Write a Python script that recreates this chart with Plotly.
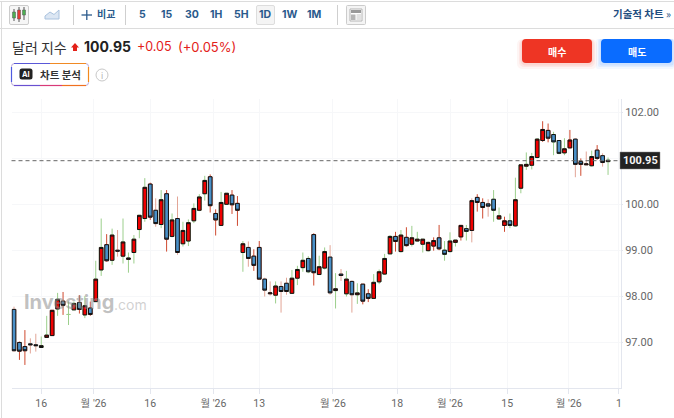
import plotly.graph_objects as go

W, H = 674, 418
PLOT_L, PLOT_R, PLOT_T, PLOT_B = 11.5, 621, 99, 388
STEP = 5.45
FIRST = 14
SANS = "Inter, 'Noto Sans CJK KR', sans-serif"
KR = "'Noto Sans CJK KR', sans-serif"

opens = [97.71, 96.99, 96.90, 96.96, 96.94, 96.88, 97.10, 97.14, 97.72, 97.89,
         97.60, 97.70, 97.86, 97.59, 97.74, 97.88, 98.57, 99.12, 98.78, 99.00,
         98.87, 98.80, 98.95, 99.45, 99.69, 100.44, 99.87, 99.56, 100.23, 99.30,
         99.69, 99.14, 99.20, 99.64, 99.87, 100.23, 100.60, 99.80, 99.54, 100.00,
         100.20, 100.02, 98.95, 99.06, 98.87, 99.06, 98.37, 98.05, 98.02, 98.21,
         98.28, 98.06, 98.39, 98.62, 98.82, 99.34, 98.47, 98.61, 98.85, 98.12,
         98.48, 98.05, 98.32, 98.03, 98.26, 98.05, 97.95, 98.31, 98.48, 98.92,
         99.30, 98.97, 99.28, 99.13, 99.20, 99.13, 98.99, 99.09, 99.27, 99.00,
         98.97, 99.17, 99.29, 99.47, 99.43, 100.15, 100.04, 100.01, 100.11, 99.68,
         99.54, 99.64, 99.53, 100.35, 100.83, 100.85, 101.02, 101.39, 101.61, 101.52,
         101.39, 101.12, 101.23, 101.42, 100.93, 100.86, 100.84, 101.18, 101.06, 100.93]
highs = [97.77, 97.01, 97.26, 97.08, 97.18, 97.12, 97.57, 97.69, 98.07, 98.09,
         97.88, 97.88, 98.02, 98.00, 97.88, 98.77, 99.69, 99.35, 99.47, 99.44,
         99.69, 98.95, 99.33, 99.77, 100.57, 100.47, 100.13, 100.31, 100.31, 99.80,
         100.17, 99.62, 99.67, 100.02, 100.22, 100.62, 100.65, 99.89, 100.27, 100.24,
         100.31, 100.18, 99.20, 99.19, 99.02, 99.20, 98.40, 98.32, 98.32, 98.32,
         98.40, 98.57, 98.66, 98.95, 98.87, 99.37, 98.88, 99.06, 99.11, 98.50,
         98.59, 98.55, 98.34, 98.28, 98.26, 98.15, 98.48, 98.58, 98.92, 99.33,
         99.40, 99.44, 99.50, 99.53, 99.40, 99.24, 99.19, 99.28, 99.55, 99.20,
         99.39, 99.22, 99.55, 99.55, 100.13, 100.22, 100.13, 100.11, 100.31, 99.93,
         99.73, 99.80, 100.58, 100.87, 101.13, 101.12, 101.44, 101.81, 101.76, 101.58,
         101.40, 101.44, 101.62, 101.44, 101.00, 101.15, 101.17, 101.29, 101.11, 101.02]
lows = [96.79, 96.61, 96.50, 96.75, 96.79, 96.88, 97.10, 97.14, 97.57, 97.59,
        97.37, 97.70, 97.62, 97.52, 97.57, 97.88, 98.44, 98.75, 98.68, 98.86,
        98.71, 98.51, 98.71, 99.26, 99.62, 99.66, 99.51, 99.48, 98.97, 99.28,
        98.90, 99.08, 99.09, 99.59, 99.85, 100.08, 99.82, 99.32, 99.53, 99.99,
        99.79, 99.53, 98.53, 98.64, 98.55, 98.37, 97.99, 98.01, 97.84, 97.64,
        98.03, 98.06, 98.24, 98.53, 98.50, 98.23, 98.46, 98.58, 98.03, 97.73,
        98.33, 97.99, 97.64, 97.83, 97.82, 97.87, 97.95, 98.26, 98.46, 98.92,
        98.97, 98.95, 99.08, 99.08, 99.19, 98.95, 98.97, 98.99, 99.00, 98.77,
        98.95, 99.08, 99.21, 99.21, 99.17, 99.84, 99.69, 99.73, 99.62, 99.66,
        99.40, 99.48, 99.51, 100.24, 100.75, 100.76, 101.00, 101.36, 101.35, 101.07,
        101.09, 101.07, 101.22, 100.59, 100.62, 100.86, 100.82, 100.97, 100.82, 100.64]
closes = [96.81, 96.80, 96.81, 96.94, 96.92, 96.92, 97.15, 97.69, 97.93, 97.80,
          97.60, 97.84, 97.71, 97.79, 97.60, 98.37, 99.06, 98.77, 99.33, 98.98,
          99.18, 98.83, 99.24, 99.76, 100.37, 99.72, 99.58, 100.10, 99.24, 99.66,
          98.95, 99.43, 99.60, 99.91, 100.16, 100.52, 99.97, 99.66, 100.04, 100.24,
          99.99, 99.87, 99.14, 98.82, 98.67, 98.37, 98.13, 98.07, 98.22, 98.10,
          98.10, 98.39, 98.58, 98.78, 98.53, 98.51, 98.64, 98.97, 98.07, 98.16,
          98.45, 98.37, 98.03, 98.07, 97.89, 97.95, 98.30, 98.53, 98.82, 99.30,
          99.19, 99.33, 99.10, 99.27, 99.24, 99.24, 99.17, 99.21, 99.03, 98.91,
          99.20, 99.22, 99.54, 99.41, 100.08, 100.04, 99.93, 99.96, 99.87, 99.75,
          99.64, 99.54, 100.10, 100.86, 100.87, 101.04, 101.42, 101.63, 101.44, 101.36,
          101.11, 101.21, 101.40, 100.87, 100.87, 100.88, 101.04, 101.00, 100.91, 100.96]
# g = green wick, r = red wick, p = pale red wick
wick_kinds = list("prrppggrgrggrgrggrgpggggg"
                  "rpgrgpggggg"
                  "rrggrrgprrppgppgggg"
                  "rggpgpgpgrrggggrgrggggrrggg"
                  "rgprrpggrggggggrrgg"
                  "grprpgrpg")[:110]
no_body = [10]

last_price = 100.95
y_ticks = [97, 98, 99, 100, 101, 102]
y_labels = ["97.00", "98.00", "99.00", "100.00", "", "102.00"]
x_ticks = [5, 14.6, 25, 36.6, 45, 58.5, 70.3, 80, 90.5, 101.8, 111.0]
x_labels = ["16", "월 '26", "16", "월 '26", "13", "월 '26", "18", "월 '26", "15", "월 '26", "1"]
periods = ["5", "15", "30", "1H", "5H", "1D", "1W", "1M"]
period_x = [142, 167, 191.5, 216, 241, 265.5, 290, 314.5]

idx = list(range(len(opens)))
fig = go.Figure()

# wicks are candles too, the body trace on top hides their boxes
wick_colors = {"g": "#9ccf8c", "r": "#cf4a30", "p": "#e2a596"}
for kind, color in wick_colors.items():
    pick = [i for i in idx if wick_kinds[i] == kind]
    fig.add_trace(go.Candlestick(
        x=pick,
        open=[opens[i] for i in pick],
        high=[highs[i] for i in pick],
        low=[lows[i] for i in pick],
        close=[closes[i] for i in pick],
        whiskerwidth=0,
        increasing=dict(line=dict(color=color, width=1), fillcolor="rgba(0,0,0,0)"),
        decreasing=dict(line=dict(color=color, width=1), fillcolor="rgba(0,0,0,0)"),
        showlegend=False,
    ))

body = [i for i in idx if i not in no_body]
fig.add_trace(go.Candlestick(
    x=body,
    open=[opens[i] for i in body],
    high=[max(opens[i], closes[i]) for i in body],
    low=[min(opens[i], closes[i]) for i in body],
    close=[closes[i] for i in body],
    whiskerwidth=0,
    increasing=dict(line=dict(color="#111111", width=1), fillcolor="#f00000"),
    decreasing=dict(line=dict(color="#111111", width=1), fillcolor="#4a90c8"),
    showlegend=False,
))


def px(x):
    return x / W


def py(y):
    return 1 - y / H


def rounded(x0, y0, x1, y1, r):
    return (f"M{px(x0 + r)},{py(y0)} L{px(x1 - r)},{py(y0)} Q{px(x1)},{py(y0)} {px(x1)},{py(y0 + r)} "
            f"L{px(x1)},{py(y1 - r)} Q{px(x1)},{py(y1)} {px(x1 - r)},{py(y1)} "
            f"L{px(x0 + r)},{py(y1)} Q{px(x0)},{py(y1)} {px(x0)},{py(y1 - r)} "
            f"L{px(x0)},{py(y0 + r)} Q{px(x0)},{py(y0)} {px(x0 + r)},{py(y0)} Z")


shapes = []
notes = []


def box(x0, y0, x1, y1, fill=None, line=None, width=1, r=0):
    s = dict(xref="paper", yref="paper", fillcolor=fill or "rgba(0,0,0,0)",
             line=dict(color=line or "rgba(0,0,0,0)", width=width if line else 0))
    if r:
        s.update(type="path", path=rounded(x0, y0, x1, y1, r))
    else:
        s.update(type="rect", x0=px(x0), x1=px(x1), y0=py(y0), y1=py(y1))
    shapes.append(s)


def seg(x0, y0, x1, y1, color, width=1):
    shapes.append(dict(type="line", xref="paper", yref="paper", x0=px(x0), x1=px(x1),
                       y0=py(y0), y1=py(y1), line=dict(color=color, width=width)))


def label(x, y, text, size, color, font=SANS, anchor="center"):
    notes.append(dict(xref="paper", yref="paper", x=px(x), y=py(y), text=text, showarrow=False,
                      xanchor=anchor, yanchor="middle", font=dict(size=size, color=color, family=font)))


# frame and toolbar
seg(0, 1.5, W, 1.5, "#dcdcdc", 1)
seg(0, 28.5, W, 28.5, "#dcdcdc", 1)
seg(1.5, 1, 1.5, H, "#dcdcdc", 1)
for sep in [73.5, 125.5, 337.5]:
    seg(sep, 5, sep, 25, "#cfcfcf", 1)

box(9.5, 5.5, 28.5, 24.5, fill="#f6f6f6", line="#cccccc", r=1.5)
for cx, top, bot, wtop, wbot, col in [(14, 12, 18, 9, 21, "#4caf50"), (19, 10, 19, 7, 22, "#e53935"),
                                      (24, 10, 15, 7, 20, "#4caf50")]:
    seg(cx, wtop, cx, wbot, "#555555", 1)
    box(cx - 1.5, top, cx + 1.5, bot, fill=col, line="#555555", width=0.5)
shapes.append(dict(type="path", xref="paper", yref="paper", fillcolor="#dbe6f3",
                   line=dict(color="#a9c2de", width=1),
                   path=f"M{px(45)},{py(19)} L{px(45)},{py(16)} L{px(50)},{py(12)} L{px(54)},{py(14.5)} "
                        f"L{px(59)},{py(10)} L{px(59)},{py(19)} Z"))
seg(81.5, 15, 92, 15, "#2a5a8c", 1.3)
seg(86.8, 10, 86.8, 20, "#2a5a8c", 1.3)
label(105.5, 14, "<b>비교</b>", 10, "#2a5a8c", KR)

box(256.5, 5.5, 274.5, 24.5, fill="#f4f4f4", line="#dddddd", r=1.5)
for name, x in zip(periods, period_x):
    label(x, 14.5, f"<b>{name}</b>", 10.5, "#2a5a8c")

box(346.5, 5.5, 365.5, 24.5, fill="#f4f4f4", line="#cccccc", r=1)
box(350, 9, 362, 21, fill="#ffffff", line="#b5b5b5")
box(351, 10, 361, 13, fill="#9a9a9a")
box(351, 14.5, 355.5, 20, fill="#b5b5b5")
for ln in [15, 17, 19]:
    seg(356.5, ln, 361, ln, "#c5c5c5", 1)

label(673, 14, "<b>기술적 차트</b> »", 10.5, "#1f4e80", KR, "right")

# title row
label(9.5, 46.5, "달러 지수", 14, "#333333", KR, "left")
shapes.append(dict(type="path", xref="paper", yref="paper", fillcolor="#e32119", line=dict(width=0),
                   path=f"M{px(75)},{py(43)} L{px(79)},{py(47.5)} L{px(77)},{py(47.5)} L{px(77)},{py(51)} "
                        f"L{px(73)},{py(51)} L{px(73)},{py(47.5)} L{px(71)},{py(47.5)} Z"))
label(81.5, 47, "<b>100.95</b>", 14, "#222222", SANS, "left")
label(134.5, 47, "+0.05", 12.5, "#e32119", SANS, "left")
label(175.5, 47, "(+0.05%)", 13, "#e32119", SANS, "left")

# buy and sell buttons, the shadows stop at the page edge
for grow, alpha in [(5, 0.05), (3, 0.07), (1.5, 0.09)]:
    box(522 - grow, 39, 592 + grow, 63 + grow + 1, fill=f"rgba(238,53,36,{alpha})", r=6)
    box(601 - grow, 39, min(672 + grow, W), 63 + grow + 1, fill=f"rgba(10,108,255,{alpha})", r=2)
box(522, 39, 592, 63, fill="#ee3524", r=4)
box(601, 39, 672, 63, fill="#0a6cff", r=4)
label(557, 51.5, "<b>매수</b>", 10, "#ffffff", KR)
label(636.5, 51.5, "<b>매도</b>", 10, "#ffffff", KR)

# AI button with a gradient border, drawn in short pieces
box(11.5, 63.5, 88.5, 85.5, fill="#ffffff", line="#b9a6d8", r=3)
seg(11.5, 67, 11.5, 82, "#4f5be0", 1.2)
seg(14, 63.5, 50, 63.5, "#5a58d8", 1.2)
seg(50, 63.5, 86, 63.5, "#f08a24", 1.2)
seg(14, 85.5, 40, 85.5, "#6a50d0", 1.2)
seg(40, 85.5, 62, 85.5, "#d83a78", 1.2)
seg(62, 85.5, 86, 85.5, "#f0701f", 1.2)
seg(88.5, 67, 88.5, 82, "#f28a1e", 1.2)
box(19.5, 68.5, 32.5, 79.5, fill="#222222", r=2.5)
label(26, 74, "<b>AI</b>", 7.5, "#ffffff")
label(60.5, 74.5, "<b>차트 분석</b>", 10.5, "#333333", KR)
shapes.append(dict(type="circle", xref="paper", yref="paper", x0=px(96), x1=px(108), y0=py(69), y1=py(81),
                   line=dict(color="#c8c8c8", width=1), fillcolor="#ffffff"))
label(102, 75, "i", 9, "#b5b5b5")

# watermark
label(21.5, 302, "<b>Investing</b>", 20, "rgba(140,140,140,0.55)", "Inter, sans-serif", "left")
label(111.5, 304.5, ".com", 14, "rgba(170,170,170,0.55)", "Inter, sans-serif", "left")

# last price line and tag
shapes.append(dict(type="line", xref="paper", yref="y", x0=px(PLOT_L), x1=px(PLOT_R), y0=last_price, y1=last_price,
                   line=dict(color="#666666", width=1, dash="4px,3px")))
box(620, 152, 660, 169, fill="#222222", line="#888888", width=0.5)
label(640, 160.5, f"<b>{last_price:.2f}</b>", 11, "#f4f4f4", "Roboto, sans-serif")

fig.update_layout(
    width=W, height=H,
    margin=dict(l=0, r=0, t=0, b=0),
    paper_bgcolor="#ffffff", plot_bgcolor="#ffffff",
    boxgap=0.33,
    boxgroupgap=0,
    showlegend=False,
    shapes=shapes,
    annotations=notes,
    hovermode=False,
    font=dict(family="Roboto, " + KR),
    xaxis=dict(
        domain=[PLOT_L / W, PLOT_R / W],
        range=[(PLOT_L - FIRST) / STEP, (PLOT_R - FIRST) / STEP],
        tickmode="array", tickvals=x_ticks, ticktext=x_labels,
        tickfont=dict(size=10.5, color="#666666"),
        ticks="outside", ticklen=5, tickcolor="#e3e6ee",
        showgrid=True, gridcolor="#f6f7f9",
        showline=True, linecolor="#e3e6ee",
        rangeslider=dict(visible=False), zeroline=False,
    ),
    yaxis=dict(
        domain=[1 - PLOT_B / H, 1 - PLOT_T / H],
        range=[97 - (PLOT_B - 342) / 45.9, 97 + (342 - PLOT_T) / 45.9],
        side="right",
        tickmode="array", tickvals=y_ticks, ticktext=y_labels,
        tickfont=dict(size=11, color="#666666"),
        ticks="outside", ticklen=1, tickcolor="#e3e6ee",
        showgrid=True, gridcolor="#f6f7f9",
        showline=True, linecolor="#e3e6ee", zeroline=False,
    ),
)

fig.write_html("out.html", config={"displayModeBar": False},
               post_script="document.body.style.margin='0';document.documentElement.style.overflow='hidden';")
